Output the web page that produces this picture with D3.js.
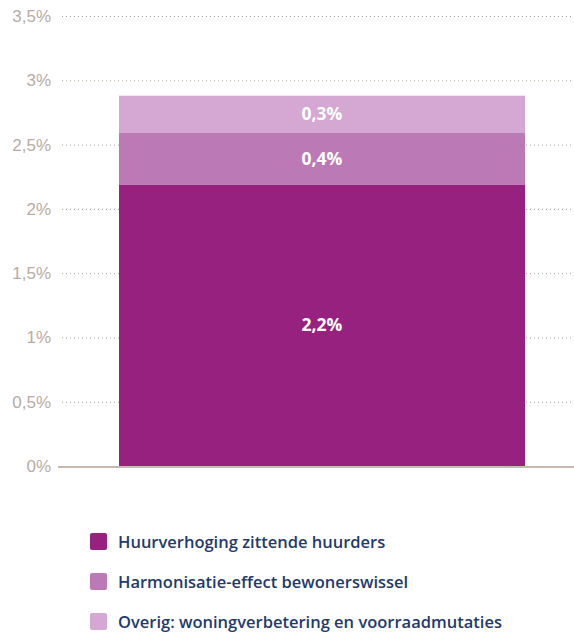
<!DOCTYPE html>
<html lang="nl">
<head>
<meta charset="UTF-8">
<title>Huurstijging opbouw</title>
<style>
    body { margin: 0; background: #fff; font-family: "Open Sans", "DejaVu Sans", sans-serif; }
    .tick text { fill: #b8aba3; font-size: 17px; }
    .grid line { stroke: #a9a09a; stroke-dasharray: 1 3; }
    .legend text { fill: #1f3a6b; font-size: 16.5px; font-weight: 600; }
</style>
<script src="https://d3js.org/d3.v7.min.js"></script>
</head>
<body>
<div id="chart"></div>
<script>
    // data
    var series = ["Huurverhoging zittende huurders", "Harmonisatie-effect bewonerswissel", "Overig: woningverbetering en voorraadmutaties"];
    var values = [2.19, 0.40, 0.29];
    var colors = ["#97217f", "#bb7ab6", "#d4a8d2"];
    var ticks = [0, 0.5, 1, 1.5, 2, 2.5, 3, 3.5];

    var width = 574, height = 633;
    var x0 = 62, x1 = 574, yTop = 16, yBot = 466;

    var svg = d3.select("#chart").append("svg")
        .attr("width", width).attr("height", height);

    var y = d3.scaleLinear().domain([0, 3.5]).range([yBot, yTop]);
    var x = d3.scaleBand().domain(["total"]).range([70, x1]).paddingInner(0).paddingOuter(0.1);

    var comma = function (v) { return String(v).replace(".", ","); };

    // gridlines
    svg.append("g").attr("class", "grid")
        .selectAll("line").data(ticks.slice(1)).enter().append("line")
        .attr("x1", x0).attr("x2", x1)
        .attr("y1", function (d) { return y(d) + 0.5; })
        .attr("y2", function (d) { return y(d) + 0.5; });

    // y axis labels
    var axis = d3.axisLeft(y).tickValues(ticks).tickSize(0).tickPadding(10)
        .tickFormat(function (d) { return comma(d) + "%"; });
    var ax = svg.append("g").attr("transform", "translate(" + (x0 - 1) + ",0)").call(axis);
    ax.select(".domain").remove();

    // stacked segments
    var starts = [];
    var acc = 0;
    values.forEach(function (v) { starts.push(acc); acc += v; });

    var bw = 406;
    var bx = x("total") + (x.bandwidth() - bw) / 2;

    svg.append("g").selectAll("rect").data(values).enter().append("rect")
        .attr("x", bx)
        .attr("width", bw)
        .attr("y", function (d, i) { return y(starts[i] + d); })
        .attr("height", function (d) { return y(0) - y(d); })
        .attr("fill", function (d, i) { return colors[i]; });

    svg.append("g").selectAll("text").data(values).enter().append("text")
        .attr("x", bx + bw / 2)
        .attr("y", function (d, i) { return y(starts[i] + d / 2); })
        .attr("dy", "0.35em")
        .attr("text-anchor", "middle")
        .attr("fill", "#fff")
        .attr("font-weight", "bold")
        .attr("font-size", "17.5px")
        .text(function (d) { return comma(d3.format(".1f")(d)) + "%"; });

    // baseline
    svg.append("line")
        .attr("x1", 58).attr("x2", x1)
        .attr("y1", y(0) + 1).attr("y2", y(0) + 1)
        .attr("stroke", "#c9b9ae").attr("stroke-width", 2);

    // legend
    var lg = svg.append("g").attr("class", "legend")
        .selectAll("g").data(series).enter().append("g")
        .attr("transform", function (d, i) { return "translate(90," + (541 + i * 40) + ")"; });
    lg.append("rect").attr("x", 0).attr("y", -8).attr("width", 17).attr("height", 17).attr("rx", 2)
        .attr("fill", function (d, i) { return colors[i]; });
    lg.append("text").attr("x", 28).attr("y", 1).attr("dy", "0.35em").text(function (d) { return d; });
</script>
</body>
</html>
